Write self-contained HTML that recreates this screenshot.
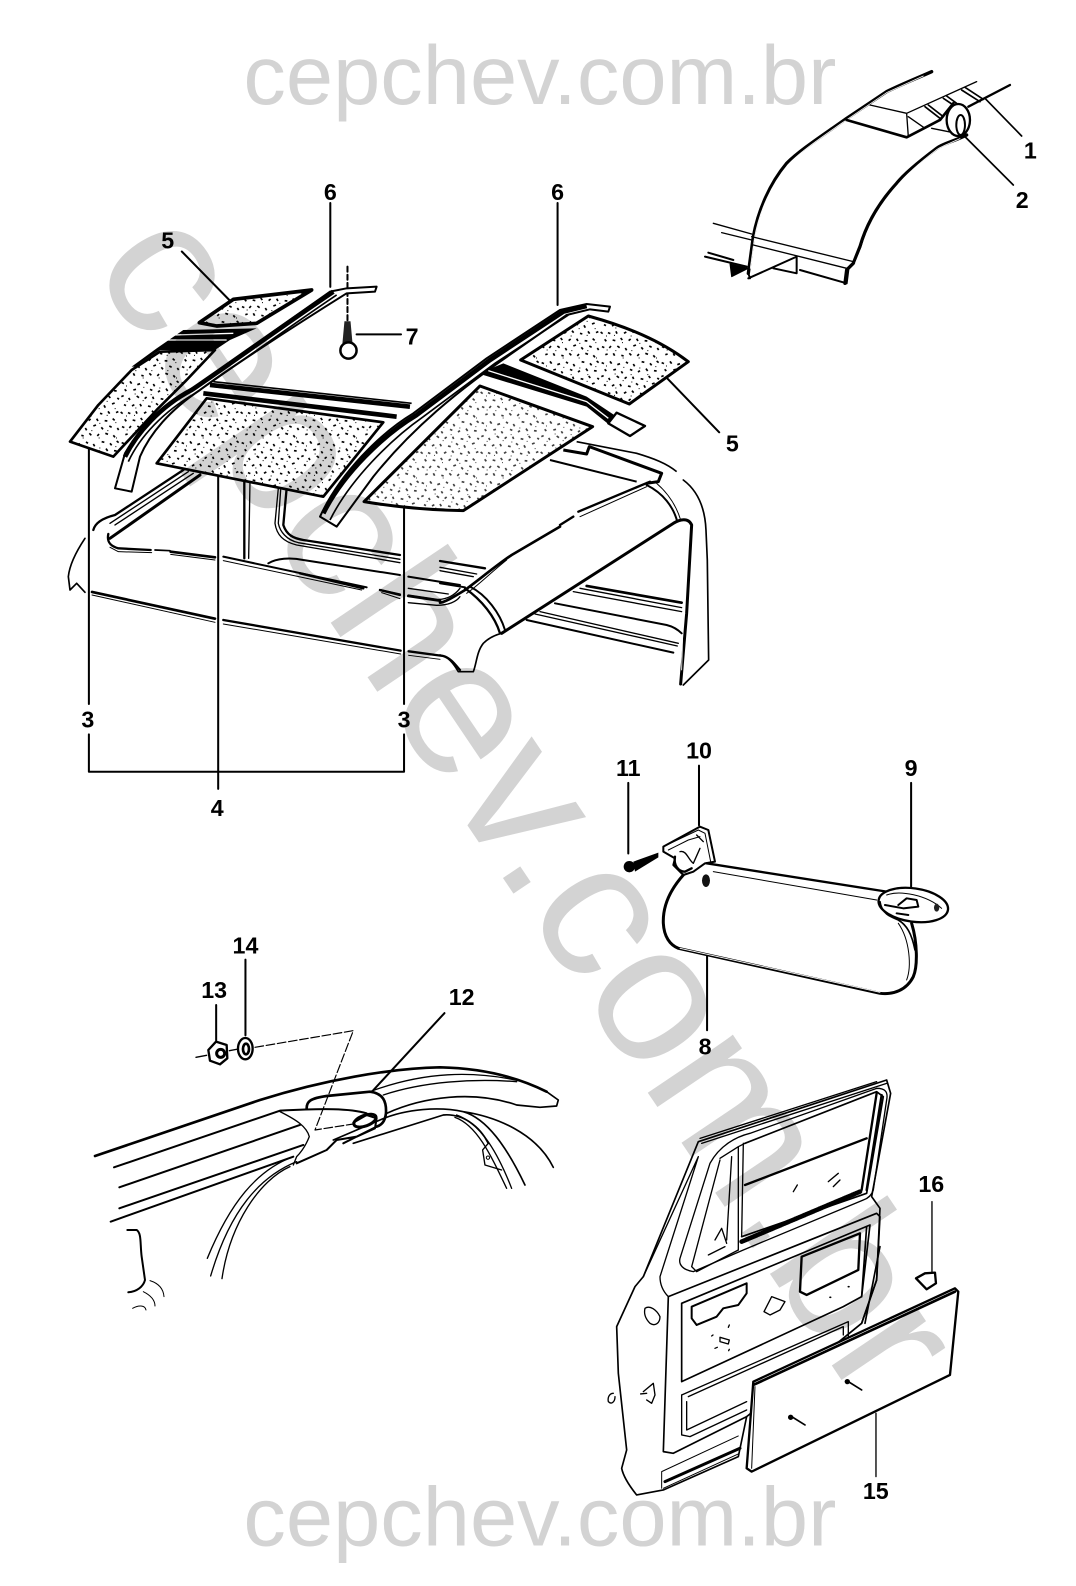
<!DOCTYPE html>
<html><head><meta charset="utf-8"><title>Diagram</title>
<style>html,body{margin:0;padding:0;background:#fff}svg{display:block}
.w{font-family:"Liberation Sans",sans-serif;fill:#d3d3d3;mix-blend-mode:multiply}
.n{font-family:"Liberation Sans",sans-serif;font-weight:bold;font-size:23px;fill:#000;text-anchor:middle}
.l{fill:none;stroke:#000;stroke-width:2;stroke-linejoin:round;stroke-linecap:round}
</style></head><body>
<svg xmlns="http://www.w3.org/2000/svg" width="1076" height="1586" viewBox="0 0 1076 1586">
<defs>
<pattern id="sp" patternUnits="userSpaceOnUse" width="180" height="180">
<path fill="none" stroke="#000" stroke-width="5" d="M5 8l7 3M30 4l5 7M52 14l8-3M78 6l6 4M100 12l4 7M125 5l8 2M150 10l5 6M170 3l6 5M14 28l5 5M40 30l8-2M64 34l4 6M90 28l7 3M114 36l6-4M138 26l5 7M162 32l8 1M4 50l7-3M26 54l4 6M50 48l7 5M74 56l6-5M98 50l3 7M122 56l8 2M146 48l5 6M172 54l5 4M12 74l6 3M36 78l7-4M60 72l4 7M84 78l8 2M108 70l6 5M132 76l4 7M156 72l8-3M2 96l6 5M24 98l7 3M48 94l3 7M72 100l7-4M96 92l5 6M120 100l7 2M144 94l5 7M168 98l7-3M14 118l5 6M38 120l8 2M62 114l5 6M86 122l6-5M110 116l4 7M134 122l8 1M158 116l6 5M6 140l7 3M28 144l5-6M52 138l7 5M76 144l4 7M100 138l8-3M124 142l5 6M148 138l7 4M172 144l4 6M16 164l7-2M40 160l4 7M64 166l7 2M88 160l6 6M112 168l5-6M136 160l8 3M160 166l5 6"/>
<path fill="none" stroke="#000" stroke-width="3" d="M18 18h3M44 42h3M70 22h3M92 44h3M118 24h3M142 44h3M166 20h3M20 64h3M46 84h3M68 62h3M94 66h3M116 86h3M140 64h3M164 86h3M18 108h3M42 106h3M66 128h3M92 108h3M118 130h3M140 106h3M166 128h3M20 150h3M46 152h3M68 174h3M94 152h3M116 174h3M142 152h3M168 174h3"/>
</pattern>
</defs>
<rect width="1076" height="1586" fill="#fff"/>

<!-- leaders and screw 7 in view coordinates -->
<g transform="scale(1.0101)">
<path class="l" d="M88 438V697M400 503V697M88 727V764H400V727M216 468V781M327 201V284M552 201V302M180 249L227 297M661 375L712 428M353 331H397"/>
<path class="l" d="M344 264V317" stroke-dasharray="5 3"/>
<path class="l" d="M692 758V817M622 775V845M902 775V878M700 945V1020M440 1003L368 1081M214 995V1030M243 950V1025"/>
<path d="M341 318L347 318L349 340L339 340Z" fill="#222"/>
<circle cx="345" cy="347" r="8" fill="#fff" stroke="#000" stroke-width="2.5"/>
</g>

<!-- upper right -->
<g transform="translate(690 60) scale(.3333)" fill="none" stroke="#000" stroke-linejoin="round" stroke-linecap="round">
<path stroke-width="10" d="M725 35C680 55 630 75 590 95L470 175C400 225 330 270 290 310C240 370 205 450 190 530L175 640"/>
<path stroke="#fff" stroke-width="2.5" d="M700 48C660 66 620 84 590 98L472 178C400 228 332 274 294 314C244 374 209 452 194 530L181 625"/>
<path stroke-width="10" d="M830 225C790 245 760 250 740 265C680 310 640 345 620 370C570 425 530 490 510 560L490 610L470 630L465 670"/>
<path stroke="#fff" stroke-width="2.5" d="M810 236C780 250 755 258 740 269C682 314 644 349 624 374C574 429 536 492 516 562L497 608"/>
<path stroke-width="4" d="M185 530L490 605M190 555L470 625M70 490L185 522M95 518L185 540"/>
<path stroke-width="6" d="M175 655L320 590V640L250 625M175 640L180 655M330 630L470 670L475 630"/>
<path stroke-width="6" d="M45 590L170 620M55 578L130 600"/>
<path fill="#000" stroke-width="3" d="M120 612L125 650L175 625Z"/>
<path stroke-width="4" d="M540 135L650 160L655 230M650 160L860 65M655 170L705 205M725 205L800 220"/>
<path stroke-width="8" d="M470 180L650 232L750 180L790 130"/>
<path stroke-width="5" d="M705 140L750 175M715 135L760 170M760 115L790 135M770 108L800 130M815 90L870 125M825 82L880 118"/>
<path stroke-width="7" d="M835 140L960 75"/>
<path stroke-width="5" d="M885 115L995 228M820 225L970 375"/>
<ellipse cx="805" cy="180" rx="35" ry="48" fill="#fff" stroke-width="7"/>
<ellipse cx="812" cy="195" rx="13" ry="30" stroke-width="6"/>
</g>

<!-- left body -->
<g transform="translate(60 460) scale(.3333)" fill="none" stroke="#000" stroke-linejoin="round" stroke-linecap="round">
<path stroke-width="7" d="M100 210C105 190 125 175 165 165L370 30"/>
<path stroke-width="4" d="M150 190L385 35M165 195L400 40"/>
<path stroke-width="9" d="M150 235L420 45"/>
<path stroke-width="7" d="M145 222C140 245 150 258 175 265L272 270"/>
<path stroke-width="3" d="M150 262L175 275L275 278"/>
<path stroke-width="5" d="M285 270L330 272"/>
<path stroke-width="8" d="M332 275L465 292"/>
<path stroke-width="3" d="M332 283L465 300"/>
<path stroke-width="6" d="M490 290L920 382M960 390L1020 403"/>
<path stroke-width="3" d="M490 302L905 390M965 398L1020 416"/>
<path stroke-width="8" d="M96 396L465 476"/>
<path stroke-width="3" d="M96 405L465 487"/>
<path stroke-width="7" d="M490 480L1022 572M1046 574L1150 588C1175 595 1190 620 1200 630"/>
<path stroke-width="3" d="M490 492L1022 582M1046 586L1140 598"/>
<path stroke-width="5" d="M75 235C45 280 28 320 25 350L30 390L50 370L75 397"/>
<path stroke-width="7" d="M553 65V295"/>
<path stroke-width="4" d="M570 65L566 295"/>
<path stroke-width="4" d="M655 85L645 190C650 225 670 245 710 255L1020 308"/>
<path stroke-width="7" d="M680 85L670 195C680 225 700 235 730 240L1020 285"/>
<path stroke-width="4" d="M662 90L655 190C660 215 680 240 715 248L1020 298"/>
<path stroke-width="6" d="M625 310C650 295 690 292 730 300L1020 345M1045 350L1200 375"/>
<path stroke-width="7" d="M720 340L910 385M960 390L1020 405"/>
<path stroke-width="4" d="M1045 385L1165 402M1045 405L1130 418C1160 420 1185 405 1200 385M1045 428L1130 436C1165 436 1190 425 1200 410"/>
<path stroke-width="8" d="M1045 408L1140 422"/>
</g>

<!-- right body -->
<g transform="translate(440 480) scale(.3333)" fill="none" stroke="#000" stroke-linejoin="round" stroke-linecap="round">
<path stroke-width="7" d="M630 5L415 95M400 110L360 135"/>
<path stroke-width="3" d="M620 20L420 110"/>
<path stroke-width="8" d="M360 140L215 225C170 255 110 305 75 330C50 345 20 365 0 368"/>
<path stroke-width="3" d="M200 240C150 280 110 320 80 340"/>
<path stroke-width="6" d="M620 15C670 40 700 80 712 125"/>
<path stroke-width="3" d="M650 10C685 40 710 80 722 120"/>
<path stroke-width="5" d="M730 0C770 30 795 80 798 150L802 240L806 540L730 615"/>
<path stroke-width="9" d="M185 460L700 130C720 118 745 112 755 135L740 400L722 612"/>
<path stroke="#fff" stroke-width="2.5" d="M745 140L730 400L725 570"/>
<path stroke-width="6" d="M90 320C140 345 180 400 195 450"/>
<path stroke-width="7" d="M75 325C125 360 165 410 180 460"/>
<path stroke-width="5" d="M0 525C25 530 40 550 55 575H100C110 550 110 515 130 490C145 475 165 465 185 460"/>
<path stroke-width="8" d="M440 318L725 368"/>
<path stroke-width="4" d="M400 335L725 395M420 325L725 383"/>
<path stroke-width="6" d="M345 370L680 435C700 440 715 450 725 460"/>
<path stroke-width="4" d="M300 395L715 490M285 402L712 498"/>
<path stroke-width="6" d="M260 420L700 518"/>
<path stroke-width="7" d="M0 243L135 265"/>
<path stroke-width="4" d="M0 262L110 282M0 272L100 290"/>
<path stroke-width="6" d="M0 310L75 322"/>
</g>

<!-- left roof detail -->
<g transform="translate(60 260) scale(.3333)">
<path d="M418 188L520 118L755 90L590 190L470 198Z" fill="#fff" stroke="#000" stroke-width="11" stroke-linejoin="round"/>
<path d="M418 188L520 118L755 90L590 190L470 198Z" fill="url(#sp)"/>
<path d="M30 545L115 435L215 330L300 275L465 270L380 360L290 450L160 590Z" fill="#fff" stroke="#000" stroke-width="8" stroke-linejoin="round"/>
<path d="M30 545L115 435L215 330L300 275L465 270L380 360L290 450L160 590Z" fill="url(#sp)"/>
<path d="M290 610L440 415L970 487L790 710Z" fill="#fff" stroke="#000" stroke-width="8" stroke-linejoin="round"/>
<path d="M290 610L440 415L970 487L790 710Z" fill="url(#sp)"/>
<path d="M165 685L195 580C230 520 300 440 400 385C480 330 660 200 810 95L860 85L950 80L945 95L860 100C700 200 500 330 420 390C330 450 270 520 240 590L215 695Z" fill="#fff" stroke="#000" stroke-width="6" stroke-linejoin="round"/>
<path d="M195 590C230 520 300 440 395 390C470 340 650 210 820 95" fill="none" stroke="#000" stroke-width="14"/>
<path d="M205 605C240 530 310 455 405 400C480 350 660 220 830 105" fill="none" stroke="#000" stroke-width="5"/>
<path d="M215 320L290 265L370 210L590 205L510 240L465 270L300 270L225 320Z" fill="#000"/>
<path d="M340 225L520 220M320 240L500 240" stroke="#fff" stroke-width="4"/>
<path d="M450 375L1050 440M430 400L1010 470" stroke="#000" stroke-width="14" fill="none"/>
<path d="M460 385L1040 452" stroke="#fff" stroke-width="3" fill="none"/>
<path d="M460 365L1055 430" stroke="#000" stroke-width="5" fill="none"/>
</g>

<!-- right roof detail -->
<g transform="translate(360 300) scale(.3333)">
<path d="M482 180L685 48C800 80 900 120 985 185L808 312Z" fill="#fff" stroke="#000" stroke-width="9" stroke-linejoin="round"/>
<path d="M482 180L685 48C800 80 900 120 985 185L808 312Z" fill="url(#sp)"/>
<path d="M12 605L360 258L698 380L310 632C200 630 100 620 12 605Z" fill="#fff" stroke="#000" stroke-width="9" stroke-linejoin="round"/>
<path d="M12 605L360 258L698 380L310 632C200 630 100 620 12 605Z" fill="url(#sp)" opacity=".75"/>
<path d="M-120 650C-60 520 60 400 160 340L380 175L600 30L680 12L750 20L745 35L690 28L620 45L420 185C300 270 160 380 40 530L-70 680Z" fill="#fff" stroke="#000" stroke-width="6" stroke-linejoin="round"/>
<path d="M-110 640C-50 520 70 405 170 345L390 180L610 35L680 18" fill="none" stroke="#000" stroke-width="14"/>
<path d="M-90 660C-30 540 90 420 190 350L405 190L625 45" fill="none" stroke="#000" stroke-width="5"/>
<path d="M370 215L430 190L680 290L770 350L745 372L680 320L370 225Z" fill="#000"/>
<path d="M385 212L680 305L745 355" stroke="#fff" stroke-width="4" fill="none"/>
<path d="M770 338L855 378L810 408L745 370Z" fill="#fff" stroke="#000" stroke-width="7" stroke-linejoin="round"/>
<path d="M650 425L830 460C880 475 920 490 950 515" fill="none" stroke="#000" stroke-width="5"/>
<path d="M610 450L680 462L688 440L905 520L895 545L860 550" fill="none" stroke="#000" stroke-width="9" stroke-linejoin="round"/>
<path d="M570 480L830 545" stroke="#000" stroke-width="6" fill="none"/>
</g>

<!-- sun visor -->
<g transform="translate(620 800) scale(.3333)" fill="none" stroke="#000" stroke-linejoin="round" stroke-linecap="round">
<path stroke-width="7" d="M260 190L800 275"/>
<path stroke-width="3" d="M280 215L770 300"/>
<path stroke-width="9" d="M190 225C150 270 128 320 130 370C132 410 150 435 175 445L780 580C820 585 860 570 880 530C893 500 893 430 875 370"/>
<path stroke="#fff" stroke-width="2.5" d="M180 445L780 577"/>
<path stroke-width="3" d="M860 540C875 500 870 420 835 370"/>
<path stroke-width="6" d="M130 140L240 80L265 90L285 185L255 190L220 215L190 225L160 195L165 175L130 155Z"/>
<path stroke-width="3" d="M140 135L235 90L255 100L272 185M145 150L165 140L205 120L240 110"/>
<path stroke-width="4" d="M180 155C200 150 205 180 220 190L240 145M230 105L250 125"/>
<path stroke-width="7" d="M165 170C160 195 175 215 195 215L215 205"/>
<ellipse cx="258" cy="242" rx="12" ry="19" fill="#111" stroke="none"/>
<ellipse cx="880" cy="315" rx="105" ry="50" transform="rotate(8 880 315)" stroke-width="7" fill="#fff"/>
<path stroke-width="3" d="M800 285C840 270 920 285 965 325"/>
<path stroke-width="5" d="M780 305C785 340 810 350 835 360C860 375 875 400 885 450"/>
<path stroke-width="6" d="M795 315L850 325L895 320L890 300L860 295L835 315M830 340L865 345"/>
<ellipse cx="950" cy="323" rx="8" ry="12" fill="#222" stroke="none"/>
<circle cx="28" cy="200" r="17" fill="#000" stroke="none"/>
<path fill="#000" stroke="none" d="M40 185L115 158L115 172L45 215Z"/>
</g>

<!-- bottom-left rail -->
<g transform="translate(90 1030) scale(.3333)" fill="none" stroke="#000" stroke-linejoin="round" stroke-linecap="round">
<path stroke-width="8" d="M15 378L510 210C700 150 900 115 1050 112C1200 115 1300 150 1370 185"/>
<path stroke-width="5" d="M1370 185L1405 210L1400 228L1350 232L1280 225C1150 180 1000 200 890 250"/>
<path stroke-width="4" d="M840 185C1000 125 1150 120 1300 155M880 195C1000 155 1150 145 1280 155"/>
<path stroke-width="6" d="M72 412L570 242C700 235 780 235 830 250"/>
<path stroke-width="6" d="M88 472L630 285M88 535L640 345M62 575L610 380"/>
<path stroke-width="4" d="M570 245C620 270 650 290 658 320C650 340 640 360 620 380L610 405"/>
<path stroke-width="8" d="M650 235C650 215 660 205 710 198L840 185C880 190 890 215 888 250C885 275 875 285 860 290"/>
<path stroke-width="6" d="M790 278L830 255L860 265L855 295L800 320L740 330L710 360L620 400M860 290L760 340"/>
<path stroke-width="5" d="M790 340L1060 255C1120 250 1170 290 1195 340M730 330L870 270C950 235 1050 230 1120 245C1190 265 1250 350 1305 465M1120 245C1220 260 1340 310 1390 412"/>
<path stroke-width="4" d="M1100 255C1170 280 1220 360 1265 475M1095 262C1160 285 1200 370 1250 475"/>
<path stroke-width="4" d="M1195 340L1178 360L1185 405L1235 420"/>
<circle cx="1194" cy="383" r="5" stroke-width="3"/>
<path stroke-width="4" d="M610 380C500 420 420 520 352 685M620 395C510 440 420 540 362 738M600 410C510 450 420 580 396 746"/>
<path stroke-width="6" d="M112 600H140C155 610 150 640 155 680L165 750C160 770 140 785 115 787"/>
<path stroke-width="3" d="M180 752C205 760 220 775 222 800M160 785C180 795 195 810 195 828M128 835C145 825 165 825 168 840"/>
<path stroke-width="4" d="M318 82L350 76M418 62L445 57" />
<path stroke-width="3.5" stroke-dasharray="26 8" d="M495 52L790 2L675 300L790 282"/>
<path d="M355 60L378 35L410 45L412 85L390 103L360 92Z" fill="#fff" stroke-width="7"/>
<circle cx="392" cy="70" r="12" stroke-width="9"/>
<ellipse cx="466" cy="56" rx="22" ry="32" fill="#fff" stroke-width="7"/>
<ellipse cx="468" cy="57" rx="9" ry="16" stroke-width="8"/>
<ellipse cx="825" cy="272" rx="35" ry="16" stroke-width="9" transform="rotate(-20 825 272)"/>
</g>

<!-- door -->
<g transform="translate(610 1080) scale(.3333)" fill="none" stroke="#000" stroke-linejoin="round" stroke-linecap="round">
<path fill="#fff" stroke-width="5" d="M265 185L830 0L842 40L785 350L810 385L800 600L755 730L410 1010L385 1130L160 1230L80 1245C60 1220 40 1190 35 1165L50 1110L25 880L20 740L75 620L100 590L265 185Z"/>
<path stroke-width="4" d="M275 190L830 10M265 230L150 590C150 620 165 640 175 650M100 590L265 230M270 175L800 5"/>
<path stroke-width="4" d="M300 250C330 195 380 170 420 160L800 25C825 25 835 35 830 60L790 330C785 345 775 355 760 360L400 510L250 575C220 570 205 555 210 535L300 250"/>
<path stroke-width="5" d="M405 190L800 35L820 50L770 340L395 470"/>
<path stroke-width="4" d="M330 235L385 200L405 190M395 470L400 190M385 200L385 510M365 230L350 480"/>
<path stroke-width="7" d="M405 315L770 175"/>
<path stroke-width="7" d="M800 40L755 330M815 45L770 330"/>
<path stroke-width="14" stroke-dasharray="3 3" d="M395 485L750 335"/>
<path stroke-width="4" d="M330 240L245 560L260 575L385 510"/>
<path stroke-width="4" d="M315 480L335 445L350 490M295 525L345 500"/>
<path stroke-width="4" d="M550 335L562 315M655 305L685 280M670 320L690 300"/>
<path stroke-width="5" d="M175 650L800 400L810 410L800 600L755 730M175 650L160 1115L190 1120L410 1010"/>
<path stroke-width="5" d="M215 670L780 435L755 650L700 680L215 905Z"/>
<path stroke-width="6" d="M245 680L410 610L410 640L385 675L340 685L320 710L260 735L245 715Z"/>
<path stroke-width="7" d="M575 530L750 460L745 570L590 645L570 635Z"/>
<path stroke-width="4" d="M215 945L715 725V770M215 945V1065L240 1070M235 950L700 740V765M230 965V1050L410 965M240 1070L410 990"/>
<path stroke-width="5" d="M770 440L755 650M810 500L765 730"/>
<path stroke-width="4" d="M462 695L485 650L525 665L510 690L480 705Z"/>
<path stroke-width="4" d="M330 772L358 780L355 792L330 785ZM305 768L309 765M358 735L355 742M315 805L322 802M356 812L358 808"/>
<path stroke-width="4" d="M105 685C120 675 140 690 150 710C150 730 135 740 120 730C110 720 100 705 105 685Z"/>
<path stroke-width="4" d="M100 935L130 910L135 945L125 970L110 960M92 942L110 940"/>
<path stroke-width="3" d="M155 1175L385 1068M155 1175L155 1225"/>
<path stroke-width="9" d="M165 1205L390 1105"/>
<path stroke-width="3" d="M160 1225L385 1122"/>
<path stroke-width="4" d="M10 940C0 940 -8 950 -5 965C5 975 15 965 15 950"/>
<path stroke-width="5" d="M660 652h2M715 620h2"/>
<path fill="#fff" stroke-width="7" d="M430 905L1035 625L1045 635L1020 885L425 1175L410 1165Z"/>
<path stroke-width="8" d="M430 915L1035 635"/>
<path stroke-width="3" d="M425 1165L435 920"/>
<path stroke-width="5" d="M715 905L755 930M545 1010L585 1035"/>
<circle cx="712" cy="905" r="8" fill="#000" stroke="none"/>
<circle cx="542" cy="1012" r="8" fill="#000" stroke="none"/>
<path stroke-width="4" d="M966 365V575M798 1000V1190"/>
<path fill="#fff" stroke-width="7" d="M918 595L945 580L975 578L978 610L950 628Z"/>
</g>

<!-- labels -->
<g transform="scale(1.0101)">
<text class="n" x="1020" y="157">1</text>
<text class="n" x="1012" y="206">2</text>
<text class="n" x="327" y="198">6</text>
<text class="n" x="552" y="198">6</text>
<text class="n" x="166" y="246">5</text>
<text class="n" x="408" y="341">7</text>
<text class="n" x="725" y="447">5</text>
<text class="n" x="87" y="720">3</text>
<text class="n" x="400" y="720">3</text>
<text class="n" x="215" y="808">4</text>
<text class="n" x="692" y="751">10</text>
<text class="n" x="622" y="768">11</text>
<text class="n" x="902" y="768">9</text>
<text class="n" x="698" y="1044">8</text>
<text class="n" x="457" y="995">12</text>
<text class="n" x="243" y="944">14</text>
<text class="n" x="212" y="988">13</text>
<text class="n" x="922" y="1180">16</text>
<text class="n" x="867" y="1484">15</text>
</g>

<!-- watermarks on top, multiplied so line art shows through -->
<g transform="scale(1.0101)">
<text class="w" x="241" y="103" font-size="83" textLength="587" lengthAdjust="spacingAndGlyphs">cepchev.com.br</text>
<text class="w" x="241" y="1530" font-size="83" textLength="587" lengthAdjust="spacingAndGlyphs">cepchev.com.br</text>
<text class="w" transform="translate(89 263) rotate(56)" font-size="193" textLength="1365" lengthAdjust="spacingAndGlyphs">cepchev.com.br</text>
</g>
</svg>
</body></html>
